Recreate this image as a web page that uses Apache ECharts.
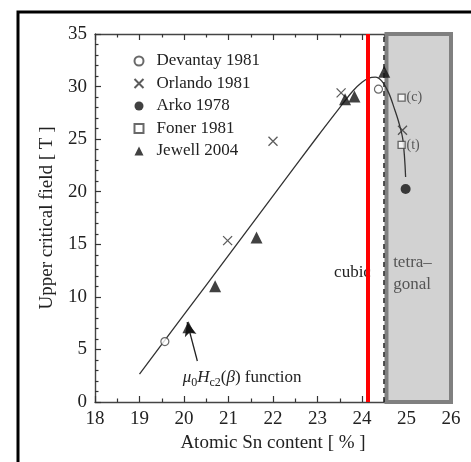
<!DOCTYPE html>
<html><head><meta charset="utf-8">
<script src="https://cdn.jsdelivr.net/npm/echarts@6/dist/echarts.min.js"></script>
<style>html,body{margin:0;padding:0;background:#fff}#c{width:471px;height:462px}</style>
</head><body><div id="c"></div>
<script>
const xTicks = [18,19,20,21,22,23,24,25,26];
const yTicks = [0,5,10,15,20,25,30,35];
const devantay = [[19.57,5.75],[24.37,29.75]];
const orlando = [[20.98,15.35],[22.0,24.8],[23.53,29.4],[24.91,25.85]];
const arko = [[24.98,20.25]];
const foner = [[24.89,28.95],[24.89,24.45]];
const jewell = [[20.1,7.1],[20.7,11.0],[21.63,15.65],[23.62,28.8],[23.83,29.05],[24.5,31.4]];
const fitCurve = [[19.0,2.65],[20.0,8.3],[21.0,13.95],[22.0,19.6],[23.0,25.25],[23.5,28.0],[23.8,29.6],[24.0,30.4],[24.15,30.8],[24.3,30.9],[24.45,30.5],[24.6,29.4],[24.72,28.0],[24.82,26.7],[24.92,24.9],[24.98,21.4]];
const cubicBoundary = 24.13;
const dashedBoundary = 24.48;
const tetraRegion = [24.55, 26];
const arrowFrom = [20.3, 3.9], arrowTo = [20.07, 7.6];

const serif = 'Liberation Serif';
const ink = '#222';
const chart = echarts.init(document.getElementById('c'));
function axisStyle(split){
  return {
    axisLine:{show:true,onZero:false,lineStyle:{color:'#444',width:1.4}},
    axisTick:{show:true,inside:true,length:6,lineStyle:{color:'#333',width:1.2}},
    minorTick:{show:true,splitNumber:split,length:3.5,lineStyle:{color:'#333',width:1.2}},
    splitLine:{show:false}
  };
}
const crossPath = 'path://M0,0L10,10M0,10L10,0';
const labelFont = {fontFamily:serif,fontSize:19,color:ink};
chart.setOption({
  animation:false,
  backgroundColor:'#fff',
  grid:{left:95,right:20,top:34,bottom:60},
  legend:{
    orient:'vertical', left:127, top:47, itemWidth:9, itemHeight:9, itemGap:4.5,
    textStyle:{fontFamily:serif,fontSize:17,color:ink,lineHeight:18,padding:[0,0,0,8]},
    data:['Devantay 1981','Orlando 1981','Arko 1978','Foner 1981','Jewell 2004']
  },
  xAxis:[
    Object.assign({type:'value',min:18,max:26,interval:1,position:'bottom',
      name:'Atomic Sn content [ % ]',nameLocation:'middle',nameGap:30,
      nameTextStyle:labelFont,
      axisLabel:Object.assign({margin:8,formatter:v=>xTicks.includes(v)?String(v):''},labelFont)},
      axisStyle(2)),
    Object.assign({type:'value',min:18,max:26,interval:1,position:'top',axisLabel:{show:false}},
      axisStyle(2))
  ],
  yAxis:[
    Object.assign({type:'value',min:0,max:35,interval:5,position:'left',
      name:'Upper critical field [ T ]',nameLocation:'middle',nameGap:38,
      nameTextStyle:labelFont,
      axisLabel:Object.assign({margin:8,formatter:v=>yTicks.includes(v)?String(v):''},labelFont)},
      axisStyle(5)),
    Object.assign({type:'value',min:0,max:35,interval:5,position:'right',axisLabel:{show:false}},
      axisStyle(5))
  ],
  series:[
    {type:'line',name:'fit',data:fitCurve,smooth:0.35,symbol:'none',z:3,
      lineStyle:{color:'#333',width:1.3},
      markArea:{silent:true,z:1,itemStyle:{color:'#d2d2d2',borderColor:'#808080',borderWidth:4},
        data:[[{xAxis:tetraRegion[0],yAxis:0},{xAxis:tetraRegion[1],yAxis:35}]]},
      markPoint:{silent:true,symbol:'circle',symbolSize:0,z:2,
        data:[
          {coord:[24.2,12.3],label:{show:true,position:'left',distance:0,formatter:'cubic',fontFamily:serif,fontSize:17,color:ink}},
          {coord:[24.7,12.2],label:{show:true,position:'right',distance:0,formatter:'tetra–\ngonal',lineHeight:22,fontFamily:serif,fontSize:17,color:'#555'}},
          {coord:[25.0,28.95],label:{show:true,position:'right',distance:0,formatter:'(c)',fontFamily:serif,fontSize:14,color:'#555'}},
          {coord:[25.0,24.45],label:{show:true,position:'right',distance:0,formatter:'(t)',fontFamily:serif,fontSize:14,color:'#555'}},
          {coord:[19.97,2.2],label:{show:true,position:'right',distance:0,
            formatter:'{i|μ}{s|0}{i|H}{s|c2}{n|(}{i|β}{n|) function}',
            rich:{i:{fontFamily:serif,fontStyle:'italic',fontSize:17,color:ink,verticalAlign:'top',lineHeight:20},
                  n:{fontFamily:serif,fontSize:17,color:ink,verticalAlign:'top',lineHeight:20},
                  s:{fontFamily:serif,fontSize:12,color:ink,verticalAlign:'bottom',lineHeight:12,padding:[8,0,0,0]}}}}
        ]}
    },
    {type:'line',name:'boundaries',data:[],z:4,
      markLine:{silent:true,symbol:['none','none'],label:{show:false},animation:false,z:4,
        data:[
          {xAxis:dashedBoundary,lineStyle:{color:'#222',width:1.5,type:[5,4]}},
          {xAxis:cubicBoundary,lineStyle:{color:'#ff0000',width:4,type:'solid'}},
          [{coord:arrowFrom,symbol:'none',lineStyle:{color:'#222',width:1.3,type:'solid'}},
           {coord:arrowTo,symbol:'arrow',symbolSize:[9,14]}]
        ]}
    },
    {type:'scatter',name:'Devantay 1981',data:devantay,symbol:'circle',symbolSize:8,z:5,
      itemStyle:{color:'#fff',borderColor:'#444',borderWidth:1.2}},
    {type:'scatter',name:'Orlando 1981',data:orlando,symbol:crossPath,symbolSize:9,z:5,
      itemStyle:{color:'none',borderColor:'#333',borderWidth:1.3}},
    {type:'scatter',name:'Arko 1978',data:arko,symbol:'circle',symbolSize:10,z:5,
      itemStyle:{color:'#111'}},
    {type:'scatter',name:'Foner 1981',data:foner,symbol:'rect',symbolSize:7,z:5,
      itemStyle:{color:'#fff',borderColor:'#444',borderWidth:1.3}},
    {type:'scatter',name:'Jewell 2004',data:jewell,symbol:'triangle',symbolSize:12,z:5,
      itemStyle:{color:'#111'}}
  ],
  graphic:[{type:'rect',silent:true,z:100,shape:{x:18,y:12,width:600,height:600},
    style:{fill:'none',stroke:'#000',lineWidth:3}}]
});
</script></body></html>
